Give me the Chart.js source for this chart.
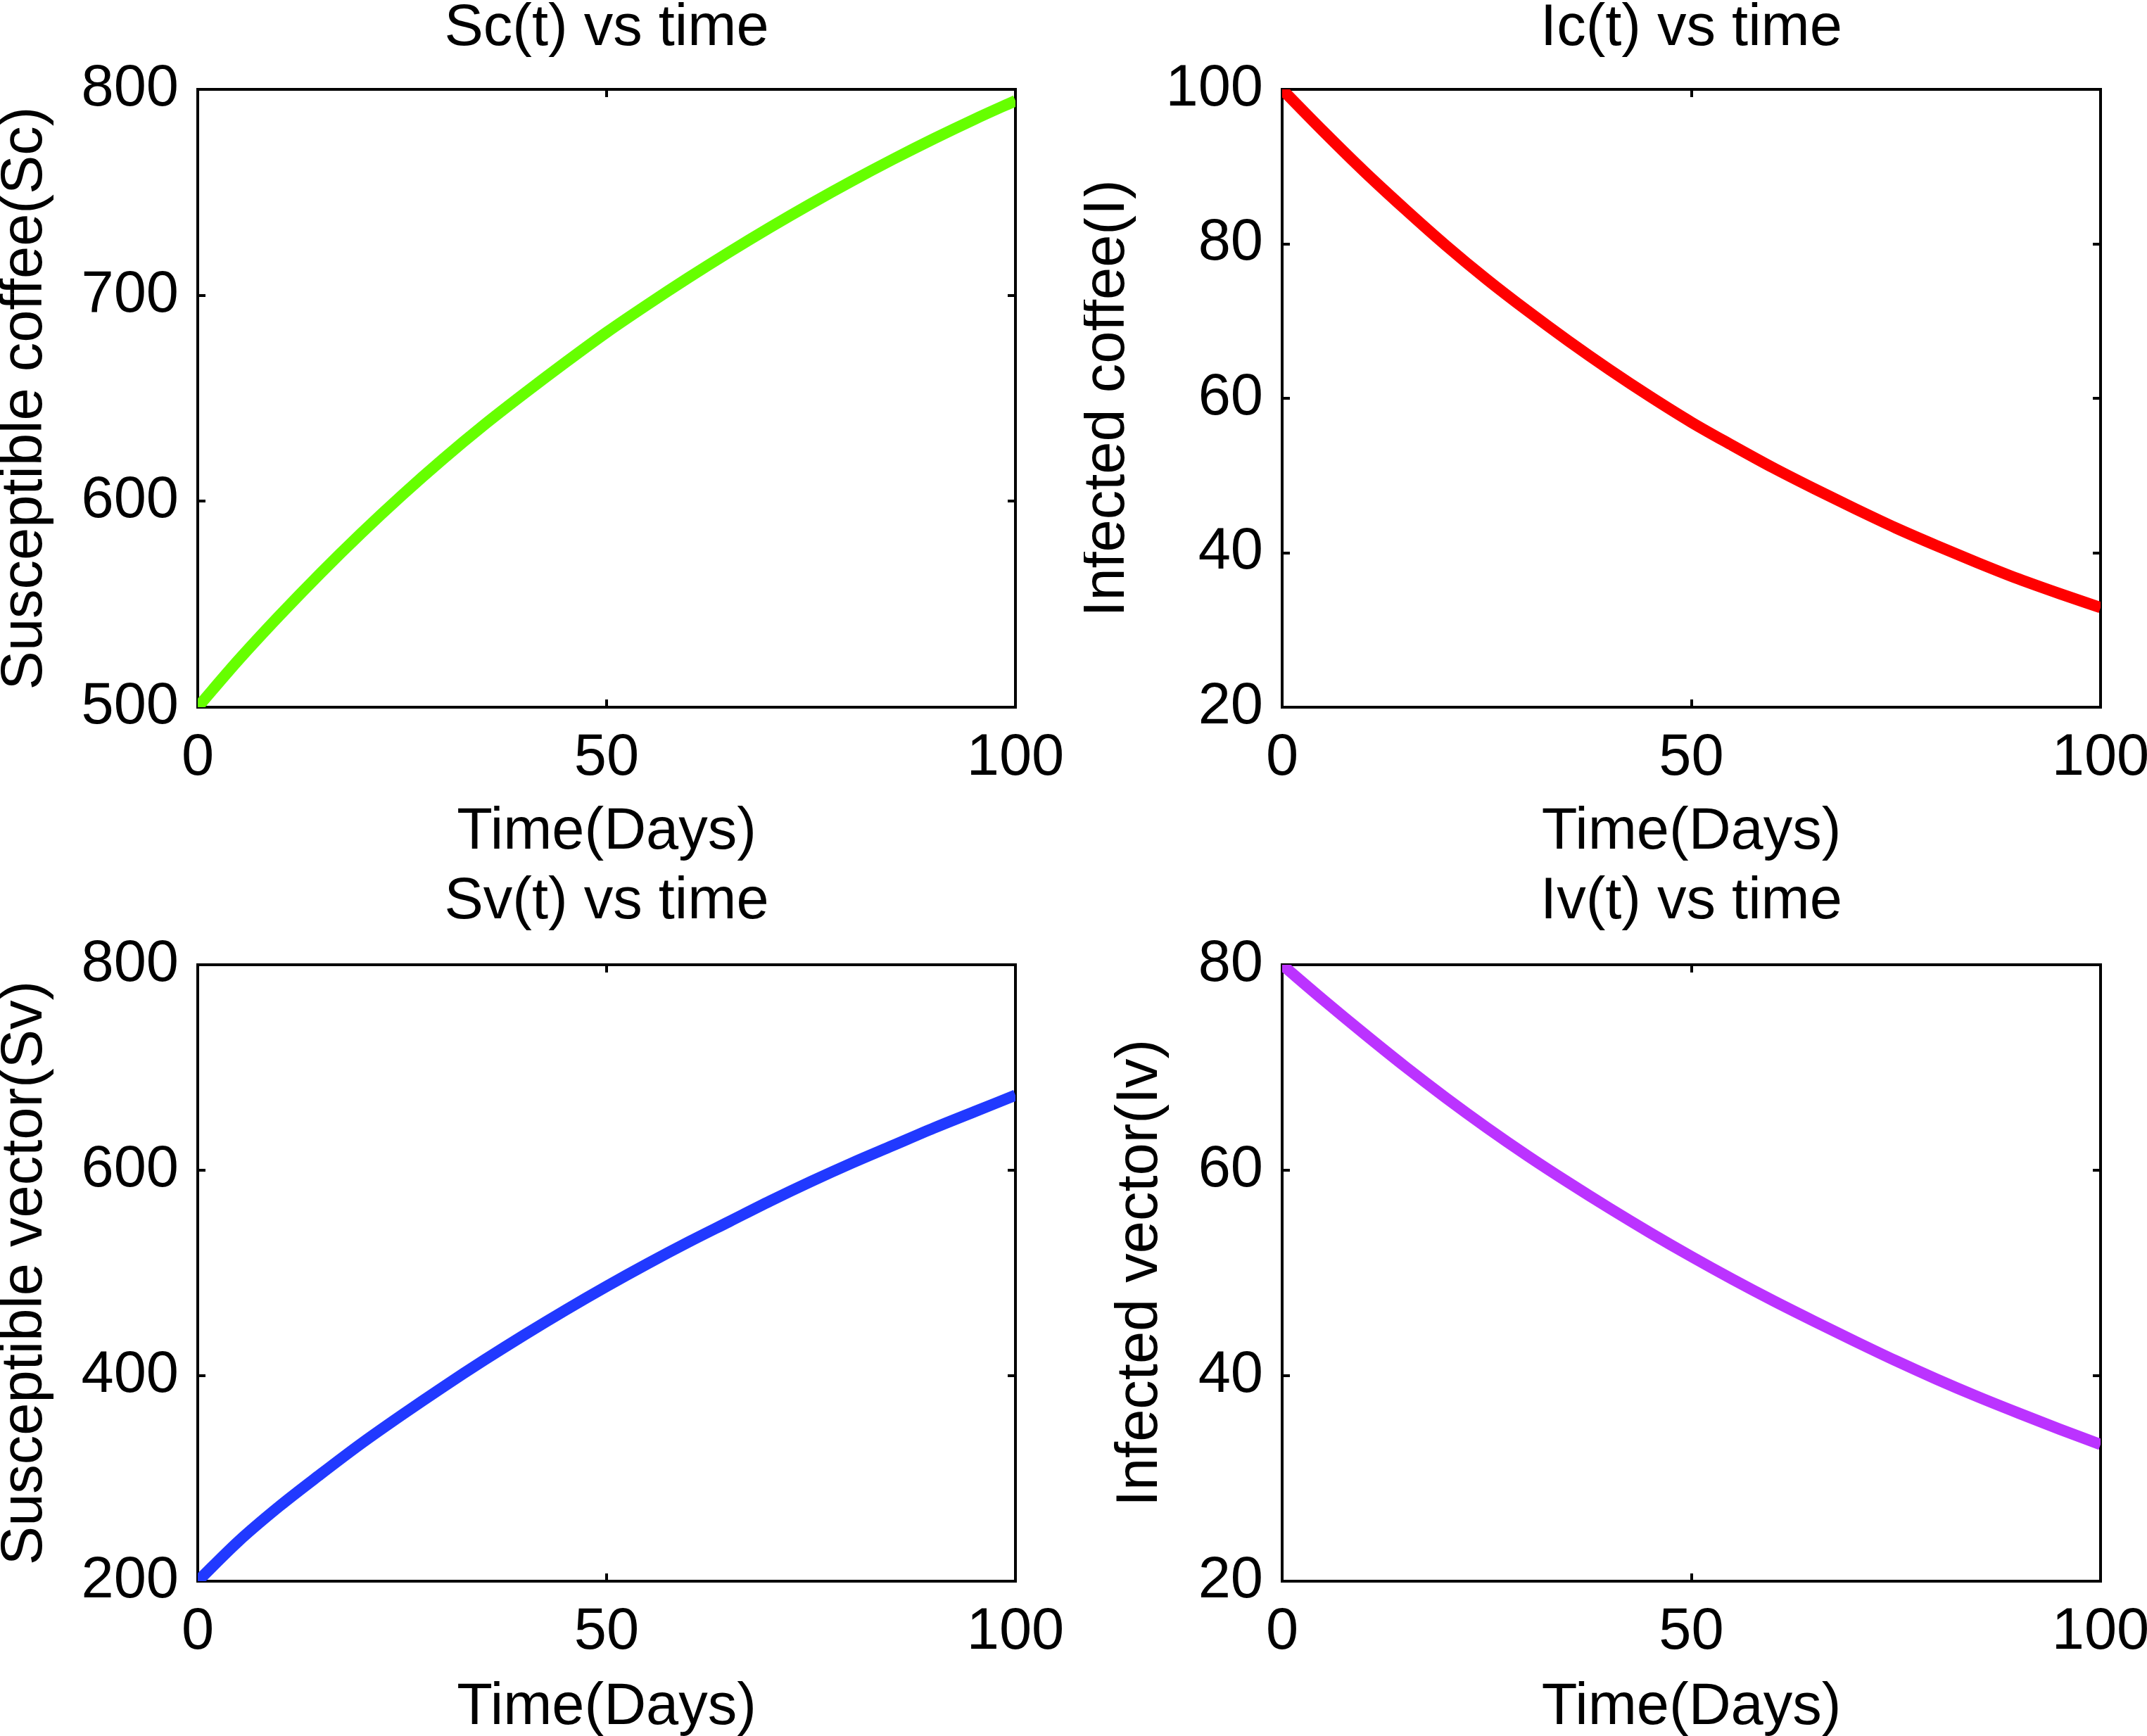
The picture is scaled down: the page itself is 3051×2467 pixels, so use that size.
<!DOCTYPE html>
<html>
<head>
<meta charset="utf-8">
<script src="https://cdn.jsdelivr.net/npm/chart.js@4.4.1/dist/chart.umd.min.js"></script>
<style>
  html, body { margin:0; padding:0; background:#fff; width:3051px; height:2467px; overflow:hidden; }
  canvas { position:absolute; }
</style>
</head>
<body>
<canvas id="c1" width="1600" height="1250" style="left:0px;top:0px"></canvas>
<canvas id="c2" width="1600" height="1250" style="left:1540px;top:0px"></canvas>
<canvas id="c3" width="1600" height="1267" style="left:0px;top:1200px"></canvas>
<canvas id="c4" width="1600" height="1267" style="left:1540px;top:1200px"></canvas>
<script>
// ---- data ----
const days = [0,5,10,15,20,25,30,35,40,45,50,55,60,65,70,75,80,85,90,95,100];
const scValues = [500,523,544.5,565,584.5,603,620.5,637,652.5,667.5,682,695.5,708.5,721,733,744.5,755.5,766,776,785.5,794.5];
const icValues = [100,94.6,89.4,84.5,79.8,75.4,71.3,67.4,63.7,60.2,56.9,53.9,51.0,48.3,45.7,43.2,40.9,38.7,36.6,34.7,32.9];
const svValues = [200,239,273,304,334,362,389,415,440,464,487,509,530,550,570,589,607,624,641,657,673];
const ivValues = [80,76.6,73.3,70.1,67.05,64.15,61.4,58.8,56.3,53.9,51.6,49.4,47.3,45.3,43.35,41.45,39.65,37.95,36.35,34.8,33.3];
const xTicks = [0,50,100];
const scTicks = [500,600,700,800];
const icTicks = [20,40,60,80,100];
const svTicks = [200,400,600,800];
const ivTicks = [20,40,60,80];
const titles = ['Sc(t) vs time','Ic(t) vs time','Sv(t) vs time','Iv(t) vs time'];
const yTitles = ['Susceptible coffee(Sc)','Infected coffee(I)','Susceptible vector(Sv)','Infected vector(Iv)'];
const xTitle = 'Time(Days)';

// ---- style ----
const FAMILY = "'Liberation Sans', Arial, Helvetica, sans-serif";
const FS = 83;
Chart.defaults.font.family = FAMILY;
Chart.defaults.color = '#000';

function makeChart(id, cfg) {
  const tickFont = {family: FAMILY, size: FS};
  const titleFont = {family: FAMILY, size: FS, lineHeight: 0.6};
  const gridOpts = {drawOnChartArea:false, drawTicks:true, tickLength:-11, color:'#000', lineWidth:4};
  const borderOpts = {display:true, color:'#000', width:4};
  const setTicks = (arr) => (s) => { s.ticks = arr.map(v => ({value:v})); };
  new Chart(document.getElementById(id), {
    type: 'line',
    data: {
      datasets: [{
        data: days.map((d,i) => ({x:d, y:cfg.values[i]})),
        borderColor: cfg.color,
        backgroundColor: cfg.color,
        borderWidth: 16,
        pointRadius: 0,
        fill: false,
        cubicInterpolationMode: 'monotone',
        xAxisID: 'x', yAxisID: 'y'
      }]
    },
    options: {
      responsive:false, animation:false, devicePixelRatio:1,
      layout: {padding:0},
      plugins: {legend:{display:false}, tooltip:{enabled:false}, title:{display:false}},
      scales: {
        x: {
          type:'linear', position:'bottom', min:0, max:100,
          afterBuildTicks: setTicks(xTicks),
          ticks:{font:tickFont, color:'#000', padding:34, maxRotation:0, autoSkip:false},
          grid:gridOpts, border:borderOpts,
          title:{display:true, text:xTitle, font:titleFont, color:'#000', padding:{top:0, bottom:cfg.xTitlePad}},
          afterFit: s => { s.height = cfg.bottomH; }
        },
        x2: {
          type:'linear', position:'top', min:0, max:100,
          afterBuildTicks: setTicks(xTicks),
          ticks:{display:false},
          grid:gridOpts, border:borderOpts,
          title:{display:true, text:cfg.title, font:titleFont, color:'#000', padding:{top:cfg.titlePad, bottom:0}},
          afterFit: s => { s.height = cfg.topH; }
        },
        y: {
          type:'linear', position:'left', min:cfg.min, max:cfg.max,
          afterBuildTicks: setTicks(cfg.ticks),
          ticks:{font:tickFont, color:'#000', padding:38},
          grid:gridOpts, border:borderOpts,
          title:{display:true, text:cfg.yTitle, font:titleFont, color:'#000', padding:{top:cfg.yTitlePad, bottom:0}},
          afterFit: s => { s.width = cfg.leftW; }
        },
        y2: {
          type:'linear', position:'right', min:cfg.min, max:cfg.max,
          afterBuildTicks: setTicks(cfg.ticks),
          ticks:{display:false},
          grid:gridOpts, border:borderOpts,
          afterFit: s => { s.width = cfg.rightW; }
        }
      }
    }
  });
}

makeChart('c1', {values:scValues, color:'#66ff00', min:500, max:800, ticks:scTicks,
  title:titles[0], yTitle:yTitles[0], leftW:281, rightW:157, topH:127, bottomH:245,
  titlePad:16, xTitlePad:42, yTitlePad:11});
makeChart('c2', {values:icValues, color:'#ff0000', min:20, max:100, ticks:icTicks,
  title:titles[1], yTitle:yTitles[1], leftW:282, rightW:155, topH:127, bottomH:245,
  titlePad:16, xTitlePad:42, yTitlePad:9});
makeChart('c3', {values:svValues, color:'#2139ff', min:200, max:800, ticks:svTicks,
  title:titles[2], yTitle:yTitles[2], leftW:281, rightW:157, topH:171, bottomH:220,
  titlePad:57, xTitlePad:15, yTitlePad:11});
makeChart('c4', {values:ivValues, color:'#bb33ff', min:20, max:80, ticks:ivTicks,
  title:titles[3], yTitle:yTitles[3], leftW:282, rightW:155, topH:171, bottomH:220,
  titlePad:57, xTitlePad:15, yTitlePad:56});
</script>
</body>
</html>
